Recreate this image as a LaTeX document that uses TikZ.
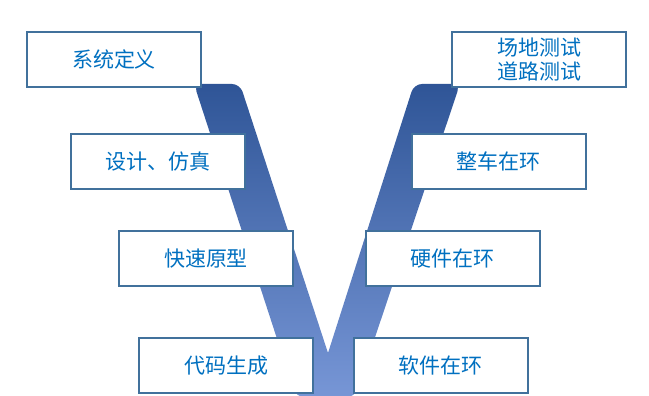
\documentclass[tikz,border=0pt]{standalone}
\usepackage{fontspec}
\newfontfamily\cjk{Noto Sans CJK SC}
\usepackage{tikz}

\definecolor{boxline}{HTML}{41719C}
\definecolor{txtblue}{HTML}{0070C0}
\definecolor{vtop}{HTML}{2F5597}
\definecolor{vmid}{HTML}{4472C4}
\definecolor{vbot}{HTML}{7796D6}

\begin{document}
\begin{tikzpicture}[
  x=1pt, y=-1pt,
  font=\cjk\fontsize{21}{24}\selectfont,
  stage/.style={draw=boxline, line width=2pt, fill=white, text=txtblue,
                minimum width=174pt, minimum height=55pt, align=center, inner sep=0pt},
  vband/.style={top color=vtop, middle color=vmid, bottom color=vbot, draw=none},
]
  \useasboundingbox (0,0) rectangle (649,396);

  % the V behind the stages
  \path[vband] (328,353) [rounded corners=8pt] -- (414,84) -- (460,84) -- (355,397)
     -- (296,397) -- (194,84) -- (240,84) [sharp corners] -- cycle;

  \node[stage] (sysdef)  at (114,59.5)   {系统定义};
  \node[stage] (design)  at (158,161.5)  {设计、仿真};
  \node[stage] (proto)   at (206,258.5)  {快速原型};
  \node[stage] (codegen) at (226,365.5)  {代码生成};
  \node[stage] (field)   at (539,59.5)   {场地测试\\道路测试};
  \node[stage] (vil)     at (498.5,161.5) {整车在环};
  \node[stage] (hil)     at (452.5,258.5) {硬件在环};
  \node[stage] (sil)     at (440.5,365.5) {软件在环};
\end{tikzpicture}
\end{document}
